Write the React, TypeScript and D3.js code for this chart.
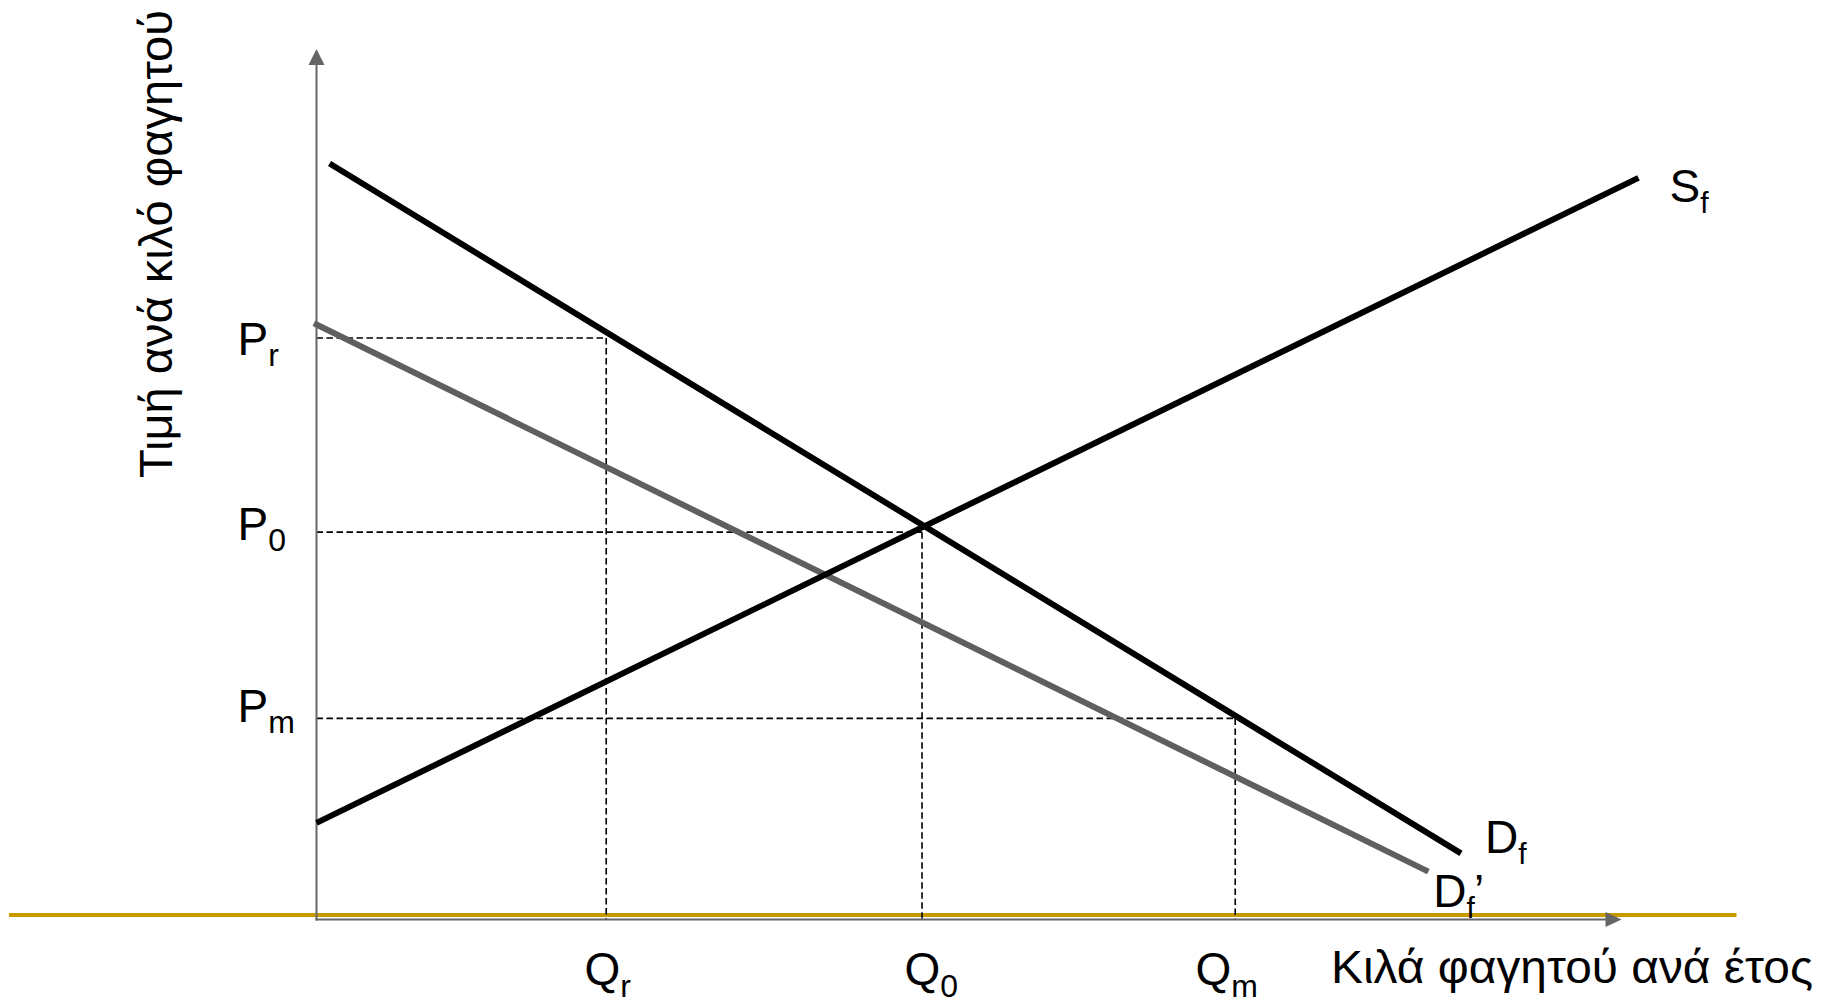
import React from "react";
import * as d3 from "d3";

// quantity / price levels (chart units, 0..100 on each axis)
const qNames = ["Q", "Q", "Q"];
const qSubs = ["r", "0", "m"];
const qValues = [22.2, 46.4, 70.4];

const pNames = ["P", "P", "P"];
const pSubs = ["r", "0", "m"];
const pValues = [66.8, 44.5, 23.1];

// curves: [quantity, price]
const supplyCurve: [number, number][] = [[0, 11.1], [101.3, 85.2]];
const demandCurve: [number, number][] = [[1.0, 86.85], [87.7, 7.6]];
const demandShifted: [number, number][] = [[-0.2, 68.5], [85.2, 5.5]];

const xTitle = "Κιλά φαγητού ανά έτος";
const yTitle = "Τιμή ανά κιλό φαγητού";

const W = 1824;
const H = 1004;
const font = "'Liberation Sans', Arial, sans-serif";

export default function App() {
  const x = d3.scaleLinear().domain([0, 100]).range([316.5, 1621.5]);
  const y = d3.scaleLinear().domain([0, 100]).range([919.5, 49]);
  const line = d3.line<[number, number]>().x(d => x(d[0])).y(d => y(d[1]));

  const axisCol = "#666666";
  const x0 = x(0), y0 = y(0);
  const xEnd = x(100), yEnd = y(100);

  // label offsets for P and Q labels
  const pOffsets = [17, 8, 4];
  const qLabelX = [584.5 - x(qValues[0]), 904.5 - x(qValues[1]), 1195.5 - x(qValues[2])];

  const sEnd = supplyCurve[1];
  const dEnd = demandCurve[1];
  const dsEnd = demandShifted[1];
  const subSize = 32;

  return (
    <svg width={W} height={H} style={{ position: "absolute", left: 0, top: 0, display: "block", background: "#fff" }}>
      {/* gold baseline */}
      <line x1={9} x2={1736.5} y1={915} y2={915} stroke="#c99a00" strokeWidth={4} />

      {/* dashed guides */}
      {qValues.map((q, i) => (
        <g key={"g" + i} stroke="#000" strokeWidth={1.6} strokeDasharray="6.5,3.5" fill="none">
          <line x1={x0} x2={x(q)} y1={y(pValues[i])} y2={y(pValues[i])} />
          <line x1={x(q)} x2={x(q)} y1={y(pValues[i])} y2={y0} />
        </g>
      ))}

      {/* axes */}
      <line x1={x0} x2={x0} y1={y0 + 1} y2={yEnd + 15} stroke={axisCol} strokeWidth={2} />
      <path d={`M${x0},${yEnd} L${x0 - 8},${yEnd + 16} L${x0 + 8},${yEnd + 16} Z`} fill={axisCol} />
      <line x1={x0 - 1} x2={xEnd - 15} y1={y0} y2={y0} stroke={axisCol} strokeWidth={2} />
      <path d={`M${xEnd},${y0} L${xEnd - 16},${y0 - 7.5} L${xEnd - 16},${y0 + 7.5} Z`} fill={axisCol} />

      {/* curves */}
      <path d={line(demandShifted) || ""} stroke="#5f5f5f" strokeWidth={6} fill="none" />
      <path d={line(supplyCurve) || ""} stroke="#000" strokeWidth={6} fill="none" />
      <path d={line(demandCurve) || ""} stroke="#000" strokeWidth={6} fill="none" />

      <g fontFamily={font} fill="#000">
        {/* price labels */}
        {pValues.map((p, i) => (
          <text key={"p" + i} x={237.5} y={y(p) + pOffsets[i]} fontSize={46}>
            {pNames[i]}
            <tspan fontSize={subSize} dy={11}>{pSubs[i]}</tspan>
          </text>
        ))}
        {/* quantity labels */}
        {qValues.map((q, i) => (
          <text key={"q" + i} x={x(q) + qLabelX[i]} y={985} fontSize={46}>
            {qNames[i]}
            <tspan fontSize={subSize} dy={12}>{qSubs[i]}</tspan>
          </text>
        ))}

        {/* curve labels */}
        <text x={x(sEnd[0]) + 31} y={y(sEnd[1]) + 24} fontSize={46}>
          S<tspan fontSize={subSize - 2} dy={11}>f</tspan>
        </text>
        <text x={x(dEnd[0]) + 24} y={y(dEnd[1]) + 0} fontSize={46}>
          D<tspan fontSize={subSize - 2} dy={11}>f</tspan>
        </text>
        <text x={x(dsEnd[0]) + 5} y={y(dsEnd[1]) + 35} fontSize={46}>
          D<tspan fontSize={subSize - 2} dy={11}>f</tspan>
          <tspan fontSize={46} dy={-11} dx={-1}>’</tspan>
        </text>

        {/* axis titles */}
        <text x={1331} y={982.7} fontSize={46} textLength={482} lengthAdjust="spacingAndGlyphs">{xTitle}</text>
        <text transform="translate(172,478) rotate(-90)" fontSize={47} textLength={468} lengthAdjust="spacingAndGlyphs">{yTitle}</text>
      </g>
    </svg>
  );
}
